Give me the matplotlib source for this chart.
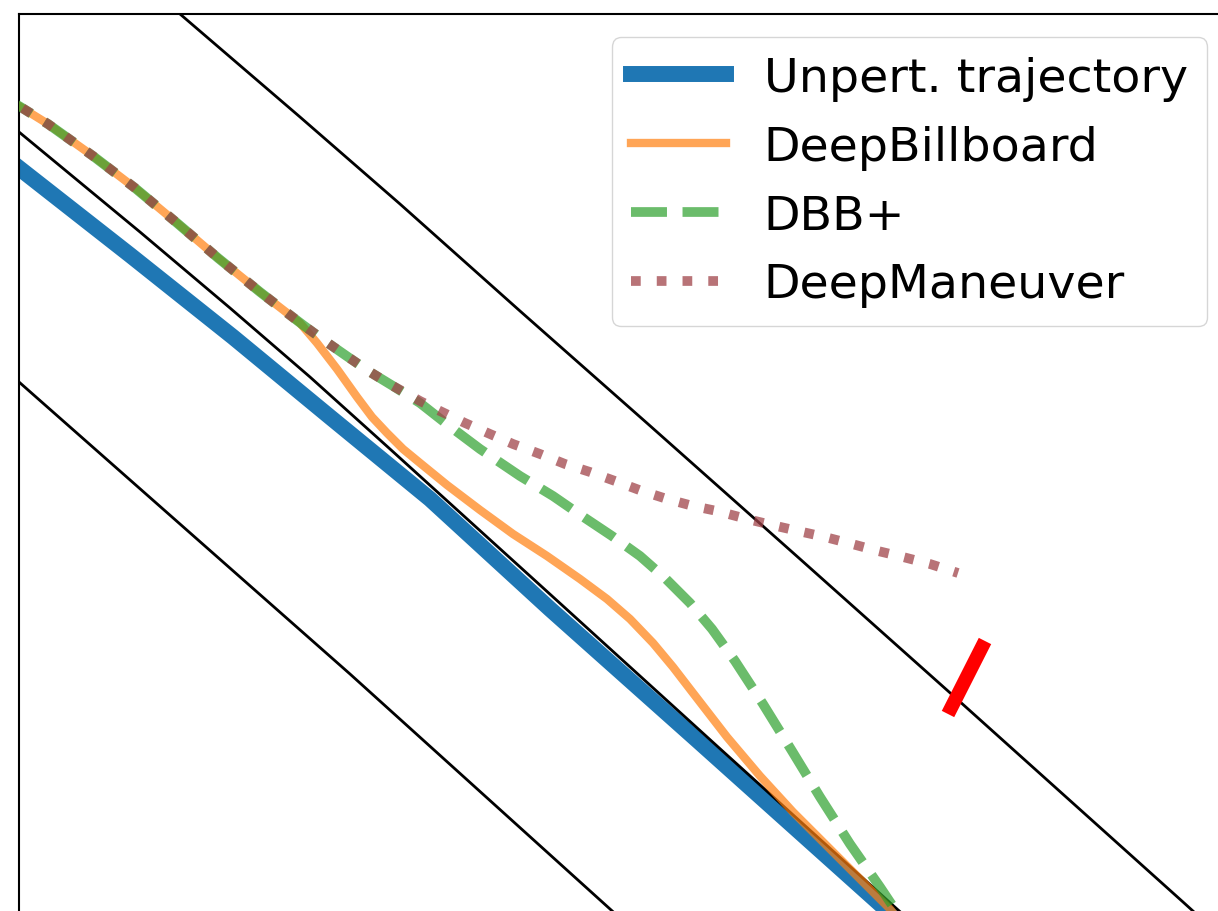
import matplotlib.pyplot as plt

# map coordinates of the road edges (x right, y down)
edge_out_x = [165, 180, 300, 400, 520, 648, 800, 948, 1183, 1215]
edge_out_y = [2, 15, 118, 205, 312, 425, 560, 692, 903, 932]
edge_mid_x = [0, 19, 140, 230, 310, 390, 530, 717, 897, 925]
edge_mid_y = [117, 133, 233, 309, 378, 450, 577, 747, 910, 935]
edge_in_x = [0, 19, 350, 610, 640]
edge_in_y = [366, 383, 675, 910, 937]

# unperturbed run
base_x = [0, 19, 130, 233, 330, 430, 550, 697, 880, 905]
base_y = [154, 169, 256, 338, 418, 500, 610, 741, 905, 927]

# shared start of the attacked runs
start_x = [0, 19, 48, 93, 135, 177, 218, 260, 282]
start_y = [97, 107, 125, 157, 189, 224, 259, 293, 310]

dbb_x = start_x + [300, 317, 337, 357, 372, 387, 403, 420, 447, 480, 513, 547, 580, 607,
                   630, 653, 673, 693, 727, 760, 793, 827, 860, 890, 910]
dbb_y = start_y + [324, 344, 370, 398, 418, 434, 450, 464, 486, 511, 535, 557, 580, 600,
                   620, 644, 668, 694, 738, 777, 813, 847, 880, 910, 935]

dbbp_x = start_x + [303, 325, 348, 370, 393, 420, 448, 480, 520, 553, 582, 612, 640, 665,
                    690, 712, 735, 763, 792, 820, 850, 880, 900, 910]
dbbp_y = start_y + [326, 342, 358, 373, 387, 404, 426, 450, 477, 497, 517, 537, 557, 579,
                    604, 630, 662, 705, 752, 798, 845, 888, 918, 935]

dm_x = start_x + [303, 325, 348, 370, 393, 420, 440, 465, 490, 513, 540, 565, 590, 615, 642,
                  667, 693, 717, 747, 772, 798, 825, 852, 878, 903, 930, 958]
dm_y = start_y + [326, 342, 358, 373, 387, 402, 412, 424, 435, 445, 455, 465, 473, 482, 492,
                  500, 507, 512, 520, 526, 532, 538, 545, 552, 558, 565, 574]

# billboard position
board_x = [948, 985]
board_y = [715, 642]

fig = plt.figure(figsize=(12.18, 9.12), dpi=100)
ax = fig.add_axes([19/1218, -18/912, 1221/1218, 915/912])

ax.plot(base_x, base_y, color='C0', lw=11.5, label='Unpert. trajectory', zorder=1)
for ex, ey in [(edge_out_x, edge_out_y), (edge_mid_x, edge_mid_y), (edge_in_x, edge_in_y)]:
    ax.plot(ex, ey, color='k', lw=2.0, zorder=2)
ax.plot(dbb_x, dbb_y, color='C1', lw=6, alpha=0.7, label='DeepBillboard', zorder=3)
ax.plot(dbbp_x, dbbp_y, color='C2', lw=7, ls='--', alpha=0.7, label='DBB+', zorder=4)
ax.plot(dm_x, dm_y, color='#a0444a', lw=7, ls=':', alpha=0.75, label='DeepManeuver', zorder=5)
ax.plot(board_x, board_y, color='red', lw=10, solid_capstyle='butt', zorder=6)

ax.set_xlim(19, 1240)
ax.set_ylim(930, 15)
ax.set_xticks([])
ax.set_yticks([])
for s in ax.spines.values():
    s.set_linewidth(1.5)

ax.legend(loc='upper right', bbox_to_anchor=(1207/1218, 1 - 38/912),
          bbox_transform=fig.transFigure, borderaxespad=0, fontsize=34.2)

fig.savefig('out.png', dpi=100)
